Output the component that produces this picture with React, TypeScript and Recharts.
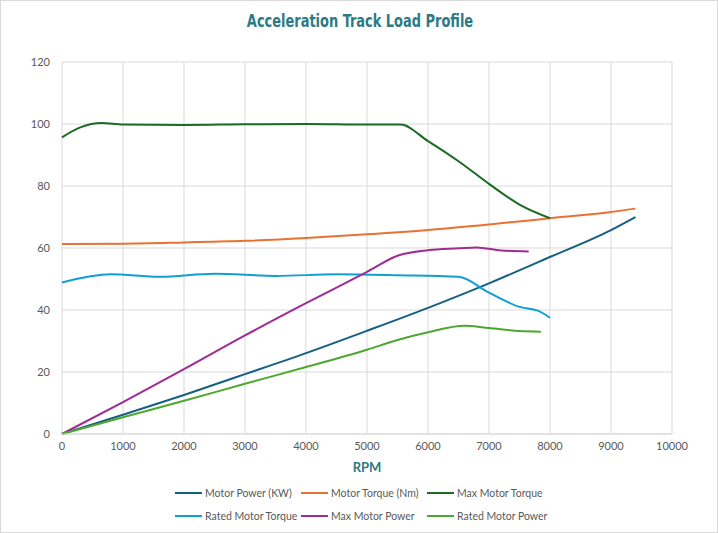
import { CartesianGrid, Line, LineChart, XAxis, YAxis } from "recharts";

// Motor Power / Motor Torque share one RPM sweep
const motorRpm = [0, 1000, 2000, 3000, 4000, 5000, 6000, 7000, 8000, 9000, 9400];
const motorPower = [0, 6.2, 12.6, 19.3, 26.1, 33.3, 40.7, 48.6, 57.1, 65.8, 70];
const motorTorque = [61.3, 61.4, 61.8, 62.3, 63.2, 64.4, 65.8, 67.6, 69.6, 71.6, 72.7];

const maxTorqueRpm = [0, 300, 650, 1000, 2000, 3000, 4000, 5000, 5550, 6000, 6500, 7000, 7500, 8000];
const maxTorque = [95.7, 98.9, 100.3, 99.8, 99.7, 99.9, 100, 99.8, 99.8, 94.5, 88, 80.7, 74, 69.6];

const ratedTorqueRpm = [0, 800, 1600, 2500, 3500, 4500, 5500, 6500, 7000, 7500, 7800, 8000];
const ratedTorque = [48.9, 51.5, 50.7, 51.7, 51.0, 51.5, 51.2, 50.7, 45.6, 41.0, 39.8, 37.5];

const maxPowerRpm = [0, 1000, 2000, 3000, 4000, 5000, 5500, 6000, 6500, 6800, 7200, 7650];
const maxPower = [0, 10.3, 20.9, 31.8, 42.2, 52.3, 57.5, 59.3, 59.9, 60.2, 59.2, 58.9];

const ratedPowerRpm = [0, 1000, 2000, 3000, 4000, 5000, 5500, 6000, 6600, 7000, 7500, 7850];
const ratedPower = [0, 5.4, 10.7, 16.2, 21.6, 27.2, 30.3, 32.8, 34.9, 34.2, 33.2, 33];

const xTicks = [0, 1000, 2000, 3000, 4000, 5000, 6000, 7000, 8000, 9000, 10000];
const yTicks = [0, 20, 40, 60, 80, 100, 120];

const zip = (xs: number[], ys: number[]) => xs.map((x, i) => ({ x, y: ys[i] }));

const series = [
  { name: "Motor Power (KW)", color: "#156082", data: zip(motorRpm, motorPower) },
  { name: "Motor Torque (Nm)", color: "#E97132", data: zip(motorRpm, motorTorque) },
  { name: "Max Motor Torque", color: "#196B24", data: zip(maxTorqueRpm, maxTorque) },
  { name: "Rated Motor Torque", color: "#0F9ED5", data: zip(ratedTorqueRpm, ratedTorque) },
  { name: "Max Motor Power", color: "#A02B93", data: zip(maxPowerRpm, maxPower) },
  { name: "Rated Motor Power", color: "#4EA72E", data: zip(ratedPowerRpm, ratedPower) },
];

const textFont = "Lato, 'Open Sans', sans-serif";
const grey = "#595959";

export default function App() {
  return (
    <div
      style={{
        position: "absolute",
        left: 0,
        top: 0,
        width: 718,
        height: 533,
        background: "#fff",
        boxSizing: "border-box",
        border: "1px solid #d9d9d9",
        fontFamily: textFont,
      }}
    >
      <div
        style={{
          position: "absolute",
          top: 9,
          left: 0,
          width: 718,
          textAlign: "center",
          fontFamily: "'Liberation Sans Narrow', 'DejaVu Sans Condensed', Roboto, sans-serif",
          fontWeight: 700,
          fontSize: 18,
          color: "#2C7A84",
          transform: "scaleX(0.8)",
        }}
      >
        Acceleration Track Load Profile
      </div>
      <div style={{ position: "absolute", left: -1, top: -1 }}>
        <LineChart width={718} height={533} margin={{ top: 62, right: 46, bottom: 59, left: 0 }}>
          <CartesianGrid stroke="#d9d9d9" />
          <XAxis
            dataKey="x"
            type="number"
            domain={[0, 10000]}
            ticks={xTicks}
            interval={0}
            allowDuplicatedCategory={false}
            tickLine={false}
            axisLine={{ stroke: "#d9d9d9" }}
            tick={{ fill: grey, fontSize: 11, fontFamily: textFont }}
            height={40}
            label={{
              value: "RPM",
              position: "insideBottom",
              offset: 2,
              fill: "#2C7A84",
              fontWeight: 700,
              fontSize: 13,
            }}
          />
          <YAxis
            type="number"
            domain={[0, 120]}
            ticks={yTicks}
            interval={0}
            width={62}
            tickLine={false}
            axisLine={false}
            tickMargin={6}
            tick={{ fill: grey, fontSize: 11, fontFamily: textFont }}
          />
          {series.map((s) => (
            <Line
              key={s.name}
              data={s.data}
              dataKey="y"
              name={s.name}
              type="monotone"
              stroke={s.color}
              strokeWidth={2}
              dot={false}
              isAnimationActive={false}
            />
          ))}
        </LineChart>
      </div>
      <div
        style={{
          position: "absolute",
          left: 174,
          top: 484,
          display: "grid",
          gridTemplateColumns: "126px 126px 140px",
          rowGap: 7,
          fontSize: 10.5,
          color: grey,
        }}
      >
        {series.map((s) => (
          <div
            key={s.name}
            style={{ display: "flex", alignItems: "center", height: 16, whiteSpace: "nowrap" }}
          >
            <span
              style={{ display: "inline-block", width: 27, height: 2, background: s.color, marginRight: 3 }}
            />
            {s.name}
          </div>
        ))}
      </div>
    </div>
  );
}
